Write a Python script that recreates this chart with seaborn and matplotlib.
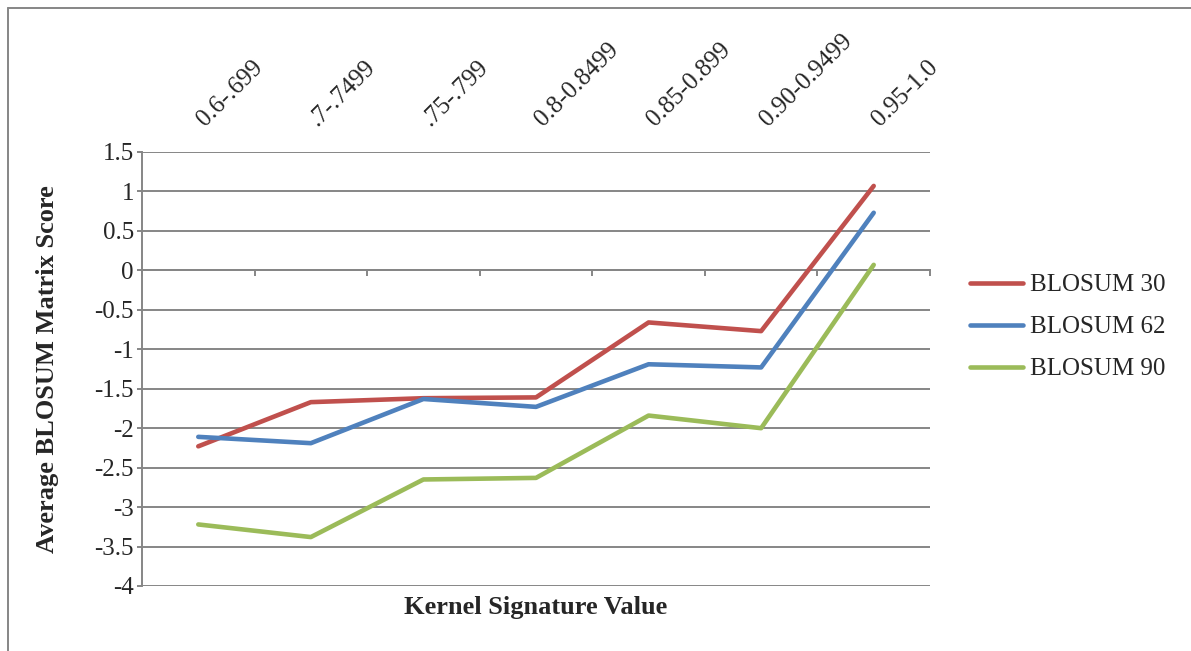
import matplotlib
matplotlib.use("Agg")
import matplotlib.pyplot as plt
from matplotlib.lines import Line2D
import numpy as np
import pandas as pd
import seaborn as sns

categories = ["0.6-.699", ".7-.7499", ".75-.799", "0.8-0.8499",
              "0.85-0.899", "0.90-0.9499", "0.95-1.0"]
blosum30 = [-2.23, -1.67, -1.62, -1.61, -0.66, -0.77, 1.07]
blosum62 = [-2.11, -2.19, -1.63, -1.73, -1.19, -1.23, 0.73]
blosum90 = [-3.22, -3.38, -2.65, -2.63, -1.84, -2.00, 0.07]
series_names = ["BLOSUM 30", "BLOSUM 62", "BLOSUM 90"]
y_ticks = [1.5, 1, 0.5, 0, -0.5, -1, -1.5, -2, -2.5, -3, -3.5, -4]
y_tick_labels = ["1.5", "1", "0.5", "0", "-0.5", "-1", "-1.5", "-2",
                 "-2.5", "-3", "-3.5", "-4"]

sns.set_theme(style="white")
plt.rcParams["font.family"] = ["Liberation Serif", "DejaVu Serif"]

pos = np.arange(len(categories))
df = pd.DataFrame({
    "pos": np.tile(pos, 3),
    "score": blosum30 + blosum62 + blosum90,
    "series": np.repeat(series_names, len(categories)),
})

grid_col = "#868686"
palette = {"BLOSUM 30": "#C0504D", "BLOSUM 62": "#4F81BD", "BLOSUM 90": "#9BBB59"}

fig = plt.figure(figsize=(11.91, 6.51), dpi=100)
ax = fig.add_axes([142 / 1191, 1 - 586 / 651, (930 - 142) / 1191, (586 - 152) / 651])

for yv in y_ticks:
    ax.axhline(yv, color=grid_col, lw=1.4, zorder=0)

sns.lineplot(data=df, x="pos", y="score", hue="series", palette=palette,
             linewidth=3.3, ax=ax, legend=False, zorder=3,
             solid_capstyle="round")

ax.set_xlim(-0.5, len(categories) - 0.5)
ax.set_ylim(-4, 1.5)

# Category axis crosses at zero, with ticks at category boundaries
for s in ["top", "right"]:
    ax.spines[s].set_visible(False)
ax.spines["bottom"].set_position(("data", 0))
ax.spines["bottom"].set_color(grid_col)
ax.spines["bottom"].set_linewidth(1.4)
ax.spines["left"].set_color(grid_col)
ax.spines["left"].set_linewidth(1.4)
ax.set_xticks(np.arange(-0.5, len(categories)))
ax.set_xticklabels([])
ax.tick_params(axis="x", direction="out", length=4.3, width=1.4, color=grid_col,
               bottom=True)
ax.set_yticks(y_ticks)
ax.set_yticklabels(y_tick_labels, fontsize=18)
ax.tick_params(axis="y", direction="out", length=3.8, width=1.4, color=grid_col,
               left=True, pad=2)

# Rotated category labels above the plot
for p, lab in zip(pos, categories):
    ax.text(p + 0.09, 1.05, lab, transform=ax.get_xaxis_transform(),
            rotation=45, rotation_mode="anchor", ha="left", va="bottom",
            fontsize=18, clip_on=False)

ax.set_xlabel("Kernel Signature Value", fontsize=19, fontweight="bold")
ax.xaxis.set_label_coords(0.5, -0.024)
ax.set_ylabel("Average BLOSUM Matrix Score", fontsize=19, fontweight="bold")
ax.yaxis.set_label_coords(-0.105, 0.5)

handles = [Line2D([0], [0], color=palette[n], lw=3.3, solid_capstyle="round")
           for n in series_names]
fig.legend(handles, series_names, loc="center left",
           bbox_to_anchor=(962 / 1191, 1 - 327 / 651), frameon=False,
           fontsize=18, handlelength=2.15, handletextpad=0.25, labelspacing=0.78,
           borderaxespad=0, borderpad=0.3)

# Outer chart frame
fx = 8 / 1191
fy = 1 - 8 / 651
fig.add_artist(Line2D([fx, 1.0], [fy, fy], color=grid_col, lw=1.4,
                      transform=fig.transFigure))
fig.add_artist(Line2D([fx, fx], [0, fy], color=grid_col, lw=1.4,
                      transform=fig.transFigure))

fig.savefig("out.png", dpi=100, facecolor="white")
